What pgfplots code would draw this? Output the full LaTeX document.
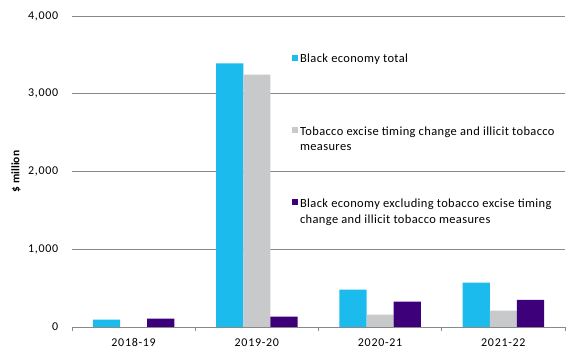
\documentclass[border=0pt]{standalone}
\usepackage{pgfplots}
\pgfplotsset{compat=1.18}
\usepackage{fontspec}
\setmainfont{Carlito}
\newfontfamily\legfont[LetterSpace=3]{Carlito}
\newfontfamily\xfont[LetterSpace=6]{Carlito}
\definecolor{cblue}{RGB}{27,187,238}
\definecolor{cgray}{RGB}{200,201,203}
\definecolor{cpurple}{RGB}{62,0,122}
\definecolor{cgrid}{RGB}{137,137,137}
\begin{document}
\begin{tikzpicture}
\begin{axis}[
  scale only axis,
  width=493bp, height=311bp,
  ybar=0pt,
  bar width=0.22,
  xmin=-0.5, xmax=3.5,
  ymin=0, ymax=4000,
  xtick={0,1,2,3},
  xticklabels={2018-19,2019-20,2020-21,2021-22},
  major x tick style={draw=none},
  minor xtick={-0.5,0.5,1.5,2.5,3.5},
  minor tick length=4bp,
  tick align=outside,
  xtick pos=bottom,
  minor x tick style={cgrid, line width=0.8pt},
  ytick={0,1000,2000,3000,4000},
  ytick pos=left,
  ytick style={draw=none},
  ymajorgrids,
  grid style={cgrid, line width=0.8pt},
  axis x line*=bottom,
  axis y line*=left,
  y axis line style={draw=none},
  x axis line style={cgrid, line width=0.8pt, -},
  yticklabel style={font=\xfont\fontsize{12}{13}\selectfont, xshift=-6bp},
  xticklabel style={font=\xfont\fontsize{12}{13}\selectfont, yshift=-4bp},
  /pgf/number format/assume math mode=true,
  /pgf/number format/1000 sep={,},
  ylabel={\textbf{\$ million}},
  ylabel style={font=\fontsize{11.5}{12}\selectfont, at={(rel axis cs:-0.1136,0.5)}, anchor=center},
  legend style={at={(0.445,0.892)}, anchor=north west, draw=none, fill=none,
    inner sep=0pt, row sep=39.5bp, font=\legfont\fontsize{12.5}{16}\selectfont,
    cells={align=left, anchor=north west}},
  legend cell align=left,
  legend image code/.code={\fill[#1] (0bp,5bp) rectangle (6.5bp,11.5bp);},
]
\coordinate (sw) at (rel axis cs:0,0);
\addplot[fill=cblue, draw=none] coordinates {(0,95) (1,3390) (2,480) (3,570)};
\addlegendentry{\strut Black economy total\\\strut}
\addplot[fill=cgray, draw=none] coordinates {(1,3245) (2,158) (3,210)};
\addlegendentry{\strut Tobacco excise timing change and illicit tobacco\\\strut measures}
\addplot[fill=cpurple, draw=none] coordinates {(0,108) (1,133) (2,325) (3,350)};
\addlegendentry{\strut Black economy excluding tobacco excise timing\\\strut change and illicit tobacco measures}
\end{axis}
\path[use as bounding box] (sw) ++(-72bp,-34bp) rectangle ++(580bp,361bp);
\end{tikzpicture}
\end{document}
